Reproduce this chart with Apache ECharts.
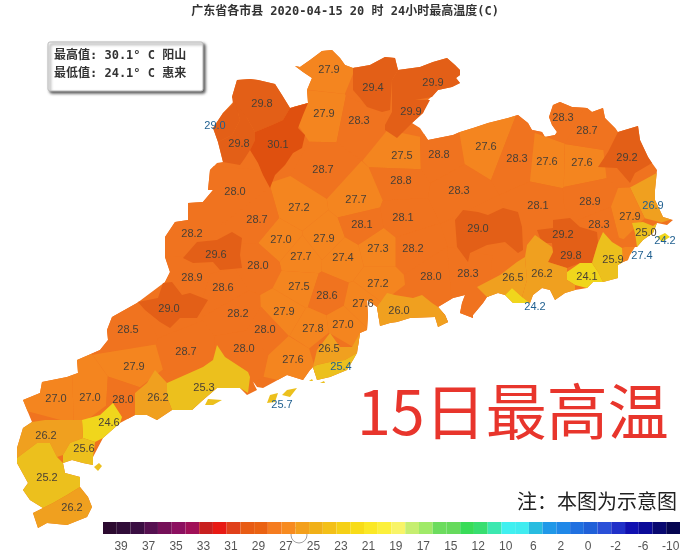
<!DOCTYPE html>
<html>
<head>
<meta charset="utf-8">
<style>html,body{margin:0;padding:0;background:#fff}#main{width:690px;height:554px}</style>
<script src="https://cdn.jsdelivr.net/npm/echarts@6/dist/echarts.min.js"></script>
</head>
<body>
<div id="main"></div>
<script>
// 县市最高温,顺序与下面的 labelPoints 对应
var regionValues = [
    27.9, 29.4, 29.9, 29.8, 27.9, 28.3, 29.9, 29.0, 29.8, 30.1,
    27.5, 28.8, 27.6, 28.3, 27.6, 27.6, 29.2, 28.3, 28.7, 28.7,
    28.8, 28.3, 28.0, 27.7, 28.1, 28.1, 28.9, 26.9, 27.9, 28.3,
    25.0, 24.2, 29.0, 29.2, 27.4, 29.8, 25.9, 24.1, 26.5, 26.2,
    24.2, 28.3, 28.0, 28.2, 27.3, 27.4, 27.7, 27.0, 27.9, 28.1,
    27.2, 28.7, 28.2, 29.6, 28.0, 28.9, 28.6, 27.5, 28.6, 27.2,
    27.6, 26.0, 28.2, 27.9, 29.0, 28.5, 28.0, 27.8, 27.0, 28.7,
    28.0, 27.6, 26.5, 25.4, 27.9, 25.3, 27.0, 27.0, 28.0, 26.2,
    25.7, 24.6, 26.2, 25.6, 25.2, 26.2
];
// 沿海站点的数字用蓝色
var blueLabelRegions = [7, 27, 31, 34, 40, 73, 80];

var tempFloors = [0, 25, 26, 27, 28, 29, 30];
var tempColors = ['#f0d61c', '#ecc01d', '#f0a01f', '#f4851f', '#f0731f', '#e35f17', '#df500f'];

var legendTicks = ['39', '37', '35', '33', '31', '29', '27', '25', '23', '21', '19', '17', '15', '12', '10', '6', '2', '0', '-2', '-6', '-10'];
var legendCells = [
    '#2c0a30', '#300c38', '#3a0e42', '#551050', '#751058', '#8c1060', '#a01058', '#c8201f', '#e81a14', '#e0401a',
    '#e85c14', '#ea6212', '#f57c20', '#f78b20', '#f3a01c', '#f0b018', '#f3c018', '#f5d016', '#f8dc18', '#fbe826',
    '#fcf03c', '#f8f468', '#c6ee70', '#a0ea68', '#6cdc5e', '#66da5c', '#38dc58', '#38de70', '#3ce8b0', '#40f0f0',
    '#40ecf0', '#28bce0', '#2098e8', '#2088e8', '#2070e0', '#2060d8', '#2a50d8', '#2030c8', '#1010b0', '#0a0a98',
    '#080870', '#050550'
];

// ---- 底图几何(示意) ----
var labelPoints = [
    [329,70],[373,88],[433,83],[262,104],[324,114],[359,121],[411,112],[215,126],[239,144],[278,145],
    [402,156],[439,155],[486,147],[517,159],[547,162],[582,163],[627,158],[563,118],[587,131],[323,170],
    [401,181],[459,191],[235,192],[356,200],[403,218],[538,206],[590,202],[653,206],[630,217],[599,225],
    [646,233],[665,241],[478,229],[563,235],[642,256],[571,256],[613,260],[587,277],[513,278],[542,274],
    [535,307],[468,274],[431,277],[413,249],[378,249],[343,258],[301,257],[281,240],[324,239],[362,225],
    [299,208],[257,220],[192,234],[216,255],[258,266],[192,278],[223,288],[299,287],[327,296],[378,284],
    [363,304],[399,311],[238,314],[284,312],[169,309],[128,330],[265,330],[313,329],[343,325],[186,352],
    [244,349],[293,360],[329,349],[341,367],[134,367],[204,388],[56,399],[90,398],[123,400],[158,398],
    [282,405],[109,423],[46,436],[84,449],[47,478],[72,508]
];

var provinceOutline = [
    [237,80],[250,79],[258,80],[275,84],[282,95],[290,108],[308,103],[307,90],[312,78],[303,72],[295,66],[300,67],[310,60],[322,51],[332,50],[340,58],[345,65],
    [353,68],[370,65],[385,57],[395,58],[398,70],[420,67],[433,62],[447,58],[455,65],[460,70],[460,75],[456,78],[460,83],[452,87],[438,90],[428,100],[423,113],[412,123],[420,128],[428,140],
    [453,135],[460,132],[473,128],[488,123],[508,118],[518,115],[528,123],[532,130],[542,132],[545,137],[555,135],[557,132],[552,125],[549,117],[553,105],[560,102],[572,107],[587,108],[592,112],[603,108],[605,118],[615,128],[618,132],
    [638,126],[640,140],[648,157],[652,163],[657,170],[655,190],[655,200],[663,217],[673,220],[667,225],[657,223],[653,233],[643,240],[637,247],[625,247],[628,260],[623,262],[618,265],[618,278],[603,282],[593,282],[587,288],[575,290],[565,293],[555,300],[550,290],[542,288],[533,295],[530,303],[513,303],[505,295],[498,293],[487,297],[483,303],[473,315],[473,318],[460,313],[462,303],[465,295],[453,298],[438,307],[445,315],[448,322],[438,327],[435,317],[410,318],[397,322],[390,323],[380,326],
    [377,307],[370,302],[367,300],[368,315],[367,330],[360,333],[357,353],[353,360],[347,370],[330,377],[317,380],[313,367],[310,370],[303,380],[287,375],[263,388],[257,387],[252,380],[257,390],[247,395],[240,388],[217,388],[203,400],[192,410],[172,410],[157,420],[147,415],[135,415],[120,423],[103,438],[93,457],[93,465],[83,463],[72,460],[63,463],[65,473],[80,477],[80,487],[88,497],[92,507],[87,517],[67,525],[47,523],[38,528],[33,513],[43,508],[30,500],[23,490],[28,483],[17,463],[17,448],[23,428],[32,422],[23,400],[40,393],[42,382],[67,377],[78,373],[77,360],
    [100,350],[108,340],[107,330],[112,317],[137,303],[165,282],[170,272],[165,257],[165,237],[175,222],[188,220],[188,203],[203,202],[213,190],[208,190],[210,170],[217,163],[223,162],[218,142],[213,128],[223,113],[235,100],[232,97]
];

// 颜色与邻区差别大的县市单独勾边,其余按 labelPoints 切分
var regionShapes = {
    1: [[[353,68],[370,65],[385,57],[395,58],[398,70],[392,80],[390,110],[382,112],[367,107],[360,98],[353,90]]],
    2: [[[398,70],[420,67],[433,62],[447,58],[455,65],[460,70],[460,75],[456,78],[460,83],[452,87],[438,90],[432,97],[415,100],[392,100],[392,80]]],
    3: [[[237,80],[250,79],[258,80],[275,84],[282,95],[290,108],[283,120],[272,125],[255,132],[247,118],[234,110],[232,97]]],
    6: [[[392,100],[415,100],[430,100],[423,113],[412,123],[405,130],[397,138],[385,130],[385,125],[392,112]]],
    7: [[[213,128],[223,113],[235,102],[240,120],[232,135],[218,142]]],
    8: [[[218,142],[232,135],[240,120],[235,102],[247,118],[255,132],[255,140],[250,150],[245,158],[240,165],[223,162]]],
    9: [[[255,132],[272,125],[283,120],[290,108],[308,103],[303,115],[298,128],[305,135],[302,148],[293,153],[285,165],[275,175],[270,188],[263,175],[258,163],[250,150],[255,140]]],
    16: [[[618,132],[638,126],[640,140],[648,157],[652,163],[635,173],[630,183],[617,168],[598,167],[608,152]]],
    30: [[[632,223],[643,222],[653,226],[657,223],[653,233],[643,240],[637,247],[635,233]]],
    31: [[[657,237],[665,233],[670,237],[662,242]]],
    32: [[[455,220],[463,210],[478,212],[488,215],[503,208],[518,212],[522,227],[523,250],[518,253],[505,242],[487,245],[470,253],[468,262],[457,247]]],
    33: [[[537,230],[553,228],[553,220],[570,218],[580,227],[597,232],[598,243],[552,243],[542,243]]],
    34: [[[625,247],[635,247],[630,255],[628,260],[623,262],[622,248]]],
    35: [[[552,243],[598,243],[592,263],[580,263],[567,268],[548,262],[553,252]]],
    36: [[[598,243],[603,232],[612,242],[622,248],[623,262],[618,265],[618,278],[603,282],[598,272],[592,263]]],
    37: [[[567,272],[580,263],[592,263],[598,272],[603,282],[593,282],[587,288],[575,285],[567,280]]],
    38: [[[477,287],[500,275],[517,262],[525,257],[527,280],[522,297],[512,288],[505,295],[498,293],[487,297]]],
    39: [[[525,257],[527,245],[535,235],[552,247],[553,252],[548,262],[567,268],[567,280],[575,285],[575,290],[565,293],[555,300],[550,290],[542,288],[533,295],[530,303],[522,297],[527,280]]],
    40: [[[505,295],[512,288],[522,297],[530,303],[513,303]]],
    53: [[[183,258],[197,242],[217,240],[232,232],[242,238],[240,255],[242,268],[220,270],[213,262],[193,263]]],
    61: [[[377,307],[387,293],[395,295],[413,298],[422,295],[432,303],[438,307],[435,317],[410,318],[397,322],[390,323],[380,326]], [[438,307],[445,315],[448,322],[438,327],[435,317]]],
    64: [[[138,302],[158,298],[163,283],[172,282],[182,295],[190,293],[208,300],[197,318],[180,318],[170,328],[160,322],[145,310]]],
    72: [[[317,350],[330,333],[340,347],[352,347],[360,333],[367,330],[360,333],[357,353],[345,360],[330,362],[317,365],[313,367]]],
    73: [[[313,367],[317,365],[330,362],[345,360],[357,353],[353,360],[347,370],[330,377],[317,380]]],
    75: [[[167,383],[203,367],[213,360],[217,345],[225,357],[248,372],[250,377],[248,393],[240,388],[217,388],[203,400],[192,410],[172,410],[167,397]], [[205,405],[208,399],[222,400],[213,405]]],
    79: [[[135,393],[147,383],[155,370],[167,383],[167,397],[172,410],[157,420],[147,415],[135,415]]],
    80: [[[267,403],[270,395],[278,393],[275,402]], [[282,395],[287,390],[297,388],[290,397]], [[309,381],[312,379],[313,381]], [[320,383],[324,381],[325,383]]],
    81: [[[113,403],[122,417],[120,423],[103,438],[95,442],[83,438],[82,420],[100,415]]],
    82: [[[23,428],[32,422],[45,420],[65,420],[82,420],[83,438],[70,443],[63,455],[57,457],[50,443],[37,443],[17,458],[17,448]]],
    83: [[[63,455],[70,443],[83,438],[95,442],[93,457],[93,465],[83,463],[72,460],[63,463]], [[94,467],[99,463],[102,466],[98,471]]],
    84: [[[17,458],[37,443],[50,443],[57,457],[63,463],[65,473],[80,477],[80,487],[67,495],[53,503],[43,508],[30,500],[23,490],[28,483],[17,463]]],
    85: [[[43,508],[53,503],[67,495],[80,487],[88,497],[92,507],[87,517],[67,525],[47,523],[38,528],[33,513]]]
};

// 半平面裁剪: 保留离 a 比离 b 近的部分
function clipCloserTo(poly, a, b) {
    var mx = (a[0] + b[0]) / 2, my = (a[1] + b[1]) / 2;
    var nx = a[0] - b[0], ny = a[1] - b[1];
    var side = function (p) { return (p[0] - mx) * nx + (p[1] - my) * ny; };
    var out = [];
    for (var i = 0; i < poly.length; i++) {
        var p = poly[i], q = poly[(i + 1) % poly.length];
        var sp = side(p), sq = side(q);
        if (sp >= 0) out.push(p);
        if ((sp >= 0) !== (sq >= 0)) {
            var t = sp / (sp - sq);
            out.push([p[0] + (q[0] - p[0]) * t, p[1] + (q[1] - p[1]) * t]);
        }
    }
    return out;
}

function toMapRing(ring) {
    var res = ring.map(function (p) { return [p[0], -p[1]]; });
    res.push(res[0]);
    return res;
}

function buildGeoJson() {
    // 最底下垫一层全省轮廓,盖住相邻色块之间的细缝
    var cells = [{
        type: 'Feature',
        properties: { name: 'base' },
        geometry: { type: 'Polygon', coordinates: [toMapRing(provinceOutline)] }
    }];
    var shaped = [];
    labelPoints.forEach(function (site, i) {
        var rings;
        if (regionShapes[i]) {
            rings = regionShapes[i];
        } else {
            var poly = provinceOutline;
            labelPoints.forEach(function (other, j) {
                if (j !== i && poly.length) poly = clipCloserTo(poly, site, other);
            });
            rings = [poly];
        }
        var feature = {
            type: 'Feature',
            properties: { name: 'r' + i, cp: [site[0], -site[1]] },
            geometry: { type: 'MultiPolygon', coordinates: rings.map(function (r) { return [toMapRing(r)]; }) }
        };
        (regionShapes[i] ? shaped : cells).push(feature);
    });
    return { type: 'FeatureCollection', features: cells.concat(shaped) };
}

echarts.registerMap('guangdong', buildGeoJson());

var myChart = echarts.init(document.getElementById('main'));

var mapData = regionValues.map(function (v, i) {
    var item = { name: 'r' + i, value: v };
    if (blueLabelRegions.indexOf(i) >= 0) item.label = { color: '#1f5f8f' };
    return item;
});
mapData.unshift({ name: 'base', value: 28, label: { show: false } });

var pieces = tempFloors.map(function (f, i) {
    return { gte: f, lt: i + 1 < tempFloors.length ? tempFloors[i + 1] : 99, color: tempColors[i] };
});

var boxFont = 'bold 12px "DejaVu Sans Mono","Noto Sans CJK SC"';

var option = {
    animation: false,
    backgroundColor: '#fff',
    title: {
        text: '广东省各市县 2020-04-15 20 时 24小时最高温度(C)',
        left: 'center',
        top: 1,
        textStyle: { fontFamily: '"DejaVu Sans Mono","Noto Sans CJK SC"', fontSize: 12, fontWeight: 'bold', color: '#333' }
    },
    visualMap: { type: 'piecewise', show: false, seriesIndex: 0, pieces: pieces },
    grid: { left: 103, top: 522, width: 577, height: 12 },
    xAxis: {
        type: 'category',
        data: legendCells.map(function (c, i) { return i % 2 ? legendTicks[(i - 1) / 2] : ''; }),
        axisLine: { show: false },
        axisTick: { show: false },
        axisLabel: { interval: 0, margin: 7, fontSize: 12, color: '#555', fontFamily: '"Liberation Sans"', padding: [0, 5, 0, 0] }
    },
    yAxis: { type: 'value', min: 0, max: 1, show: false },
    series: [
        {
            type: 'map',
            map: 'guangdong',
            left: 0,
            top: 0,
            width: 690,
            height: 554,
            aspectScale: 1,
            boundingCoords: [[0, 0], [690, -554]],
            silent: true,
            selectedMode: false,
            label: { show: true, fontSize: 11, color: '#4a4036', fontFamily: '"Liberation Sans"', formatter: function (p) { return p.value.toFixed(1); } },
            itemStyle: { borderWidth: 0 },
            data: mapData
        },
        {
            type: 'bar',
            barWidth: '100%',
            silent: true,
            data: legendCells.map(function (c) { return { value: 1, itemStyle: { color: c } }; })
        }
    ],
    graphic: [
        {
            type: 'rect',
            shape: { x: 48, y: 42, width: 155, height: 49, r: 2 },
            style: { fill: '#fff', stroke: '#bbb', lineWidth: 1, shadowColor: 'rgba(0,0,0,0.65)', shadowBlur: 3, shadowOffsetX: 2, shadowOffsetY: 2 }
        },
        {
            type: 'text', x: 54, y: 50,
            style: { text: '最高值: 30.1° C 阳山', fill: '#333', font: boxFont }
        },
        {
            type: 'text', x: 54, y: 68,
            style: { text: '最低值: 24.1° C 惠来', fill: '#333', font: boxFont }
        },
        {
            type: 'text', x: 357, y: 381,
            style: { text: '15日最高温', fill: '#e8352c', font: '61px "Noto Sans CJK SC"' }
        },
        {
            type: 'text', x: 517, y: 491,
            style: { text: '注\uFF1A本图为示意图', fill: '#222', font: '20px "Noto Sans CJK SC"' }
        },
        {
            type: 'circle', shape: { cx: 299, cy: 535, r: 8 },
            style: { fill: 'rgba(255,255,255,0.55)', stroke: 'rgba(120,120,120,0.7)', lineWidth: 1 }
        },
        {
            type: 'text', x: 314, y: 523,
            style: { text: '@广东天气', fill: 'rgba(255,255,255,0.75)', font: '17px "Noto Sans CJK SC"', shadowColor: 'rgba(0,0,0,0.35)', shadowBlur: 2 }
        }
    ]
};

myChart.setOption(option);
</script>
</body>
</html>
